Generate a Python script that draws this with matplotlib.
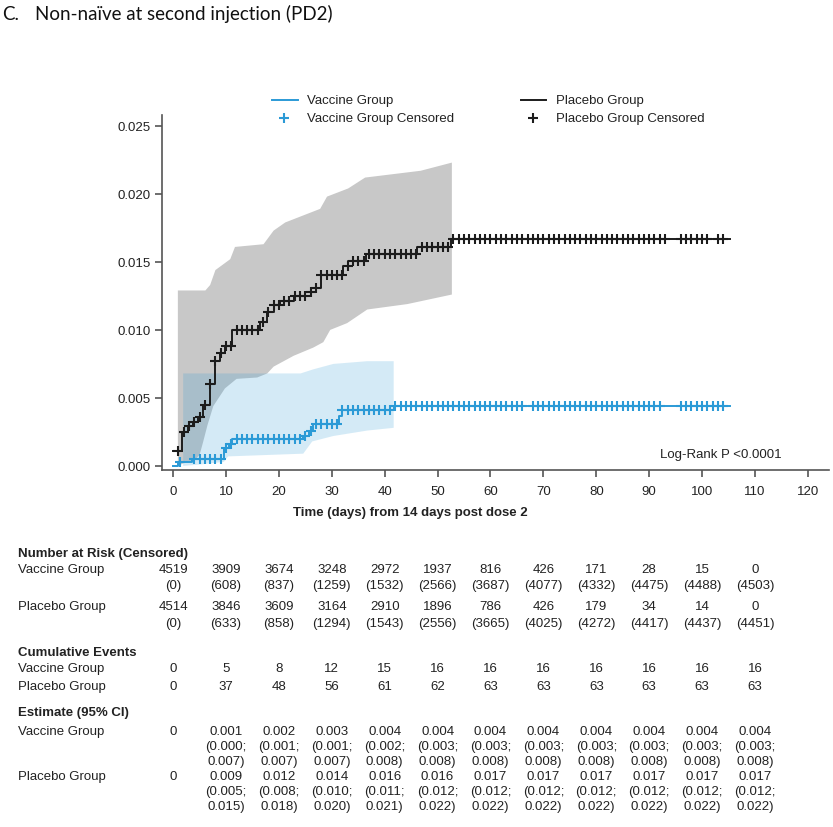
import matplotlib
matplotlib.use("Agg")
import matplotlib.pyplot as plt
import numpy as np
from matplotlib.transforms import blended_transform_factory
from matplotlib.lines import Line2D

W, H, DPI = 833, 828, 100
plt.rcParams['font.family'] = ['Liberation Sans', 'DejaVu Sans']

# ---------------- data ----------------
# Kaplan-Meier cumulative incidence (step changes)
placebo_days = [0, 1.7, 2.9, 3.8, 4.8, 5.7, 7.0, 8.0, 8.9, 9.9, 11.1, 16.5, 17.8, 19.0,
                20.3, 22.8, 26.0, 27.0, 28.0, 32.2, 33.1, 36.5, 46.2, 52.6]
placebo_cum = [0.0011, 0.0025, 0.0029, 0.0032, 0.0036, 0.0045, 0.0060, 0.0077, 0.0083, 0.0088,
               0.0100, 0.0106, 0.0113, 0.0118, 0.0121, 0.0125, 0.0128, 0.0131, 0.0140, 0.0147,
               0.0151, 0.0156, 0.0161, 0.0167]
placebo_end = 105.2

vaccine_days = [0, 1.0, 3.5, 9.6, 10.6, 11.1, 24.6, 25.6, 26.5, 31.3, 32.0, 41.7]
vaccine_cum = [0.0000, 0.0003, 0.0005, 0.0013, 0.0016, 0.0020, 0.0022, 0.0026, 0.0031,
               0.0037, 0.0041, 0.0044]
vaccine_end = 105.2

# censoring times
placebo_censor = [1, 2, 3, 4, 5, 6, 7, 8, 9, 10, 11, 12, 13, 14, 15, 16, 17, 18, 19, 20,
                  21, 22, 23, 24, 25, 26, 27, 28, 29, 30, 31, 32, 33, 34, 35, 36, 37, 38, 39,
                  40, 41, 42, 43, 44, 45, 46, 47, 48, 49, 50, 51, 52, 53, 54, 55, 56, 57, 58,
                  59, 60, 61, 62, 63, 64, 65, 66, 67, 68, 69, 70, 71, 72, 73, 74, 75, 76, 77,
                  78, 79, 80, 81, 82, 83, 84, 85, 86, 87, 88, 89, 90, 91, 92, 93,
                  96, 97, 98, 99, 100, 101, 103, 104]
vaccine_censor = [1.3, 4, 5, 6, 7, 8, 9, 10, 11, 12, 13, 14, 15, 16, 17, 18, 19, 20, 21, 22,
                  23, 24, 25, 26, 27, 28, 29, 30, 31, 32, 33, 34, 35, 36, 37, 38, 39, 40, 41,
                  42, 43, 44, 45, 46, 47, 48, 49, 50, 51, 52, 53, 54, 55, 56, 57, 58, 59, 60,
                  61, 62, 63, 64, 65, 66, 68, 69, 70, 71, 72, 73, 74, 75, 76, 77, 78, 79, 80,
                  81, 82, 83, 84, 85, 86, 87, 88, 89, 90, 91, 92,
                  96, 97, 98, 99, 100, 101, 102, 103, 104]

# 95% CI bands
placebo_up_days = [0.9, 6.1, 7.0, 8.0, 10.8, 11.7, 17.1, 19.0, 21.2, 27.8, 29.1, 33.1, 36.3, 46.8, 52.7]
placebo_up = [0.0129, 0.0129, 0.0133, 0.0144, 0.0152, 0.0161, 0.0163, 0.0173, 0.0179, 0.0189,
              0.0198, 0.0204, 0.0212, 0.0217, 0.0223]
placebo_lo_days = [0.9, 2.0, 4.0, 5.0, 5.7, 6.5, 7.6, 9.8, 12.0, 15.9, 17.8, 19.0, 22.8, 26.5,
                   28.4, 29.7, 32.9, 36.7, 44.3, 52.7]
placebo_lo = [0.0000, 0.0002, 0.0004, 0.0008, 0.0018, 0.0030, 0.0044, 0.0057, 0.0064, 0.0065,
              0.0068, 0.0073, 0.0081, 0.0087, 0.0091, 0.0100, 0.0105, 0.0115, 0.0119, 0.0126]

vaccine_up_days = [1.9, 24.1, 26.5, 30.3, 36.7, 41.7]
vaccine_up = [0.0068, 0.0068, 0.0071, 0.0075, 0.0077, 0.0077]
vaccine_lo_days = [1.9, 5.0, 9.6, 10.4, 24.6, 26.3, 30.3, 36.7, 41.7]
vaccine_lo = [0.0000, 0.0001, 0.0003, 0.0007, 0.0009, 0.0018, 0.0022, 0.0026, 0.0028]

# table
table_days = [0, 10, 20, 30, 40, 50, 60, 70, 80, 90, 100, 110]
risk_vaccine = [4519, 3909, 3674, 3248, 2972, 1937, 816, 426, 171, 28, 15, 0]
cens_vaccine = [0, 608, 837, 1259, 1532, 2566, 3687, 4077, 4332, 4475, 4488, 4503]
risk_placebo = [4514, 3846, 3609, 3164, 2910, 1896, 786, 426, 179, 34, 14, 0]
cens_placebo = [0, 633, 858, 1294, 1543, 2556, 3665, 4025, 4272, 4417, 4437, 4451]
events_vaccine = [0, 5, 8, 12, 15, 16, 16, 16, 16, 16, 16, 16]
events_placebo = [0, 37, 48, 56, 61, 62, 63, 63, 63, 63, 63, 63]
est_vaccine = ["0", "0.001", "0.002", "0.003", "0.004", "0.004", "0.004", "0.004", "0.004", "0.004", "0.004", "0.004"]
lo_vaccine = ["", "0.000", "0.001", "0.001", "0.002", "0.003", "0.003", "0.003", "0.003", "0.003", "0.003", "0.003"]
hi_vaccine = ["", "0.007", "0.007", "0.007", "0.008", "0.008", "0.008", "0.008", "0.008", "0.008", "0.008", "0.008"]
est_placebo = ["0", "0.009", "0.012", "0.014", "0.016", "0.016", "0.017", "0.017", "0.017", "0.017", "0.017", "0.017"]
lo_placebo = ["", "0.005", "0.008", "0.010", "0.011", "0.012", "0.012", "0.012", "0.012", "0.012", "0.012", "0.012"]
hi_placebo = ["", "0.015", "0.018", "0.020", "0.021", "0.022", "0.022", "0.022", "0.022", "0.022", "0.022", "0.022"]

x_ticks = [0, 10, 20, 30, 40, 50, 60, 70, 80, 90, 100, 110, 120]
y_ticks = [0.000, 0.005, 0.010, 0.015, 0.020, 0.025]

# ---------------- styling ----------------
C_PLA = "#1c1c1c"
C_VAC = "#2b9ad6"
C_GRAY = "#c8c8c8"
C_TXT = "#222222"
FS = 9.5

fig = plt.figure(figsize=(W / DPI, H / DPI), dpi=DPI)


def fx(px):
    return px / W


def fy(py):
    return 1 - py / H


ax = fig.add_axes([fx(162), fy(471), fx(829) - fx(162), fy(116) - fy(471)])
ax.set_xlim(-2.1, 124)
ax.set_ylim(-0.0003, 0.0258)

# CI bands
ax.fill(placebo_up_days + placebo_lo_days[::-1], placebo_up + placebo_lo[::-1],
        color=C_GRAY, lw=0, zorder=1)
ax.fill(vaccine_up_days + vaccine_lo_days[::-1], vaccine_up + vaccine_lo[::-1],
        color=C_VAC, alpha=0.2, lw=0, zorder=2)


def step_curve(days, cum, end, color):
    xs = list(days) + [end]
    ys = list(cum) + [cum[-1]]
    ax.step(xs, ys, where='post', color=color, lw=1.4, zorder=3)


def censor_vals(days, cum, times):
    idx = np.searchsorted(np.array(days), np.array(times), side='right') - 1
    return np.array(cum)[idx]


step_curve(placebo_days, placebo_cum, placebo_end, C_PLA)
step_curve(vaccine_days, vaccine_cum, vaccine_end, C_VAC)
ax.plot(placebo_censor, censor_vals(placebo_days, placebo_cum, placebo_censor), ls='none',
        marker='+', ms=7.5, mew=1.5, color=C_PLA, zorder=4)
ax.plot(vaccine_censor, censor_vals(vaccine_days, vaccine_cum, vaccine_censor), ls='none',
        marker='+', ms=7.5, mew=1.5, color=C_VAC, zorder=4)

for s in ['top', 'right']:
    ax.spines[s].set_visible(False)
for s in ['left', 'bottom']:
    ax.spines[s].set_color('#555555')
    ax.spines[s].set_linewidth(1.2)
ax.set_xticks(x_ticks)
ax.set_yticks(y_ticks)
ax.set_yticklabels([f"{v:.3f}" for v in y_ticks])
ax.tick_params(axis='both', colors='#555555', labelcolor=C_TXT, labelsize=FS, length=5, width=1.2)
ax.tick_params(axis='x', pad=6)
ax.tick_params(axis='y', pad=3)

fig.text(fx(782), fy(455), "Log-Rank P <0.0001", fontsize=FS, color=C_TXT,
         ha='right', va='center')

# x label
fig.text(fx(410), fy(513), "Time (days) from 14 days post dose 2", fontsize=FS,
         fontweight='bold', color=C_TXT, ha='center', va='center')

# title
fig.text(fx(2), fy(14), "C.", fontsize=13.5, family=['Lato', 'DejaVu Sans'], color='#111111',
         ha='left', va='center')
fig.text(fx(35), fy(14), "Non-naïve at second injection (PD2)", fontsize=13.5,
         family=['Lato', 'DejaVu Sans'], color='#111111', ha='left', va='center')

# legend (manual)
fig.add_artist(Line2D([fx(272), fx(298)], [fy(101), fy(101)], color=C_VAC, lw=1.4))
fig.add_artist(Line2D([fx(284)], [fy(119)], color=C_VAC, marker='+', ms=7.5, mew=1.5, ls='none'))
fig.text(fx(307), fy(101), "Vaccine Group", fontsize=FS, color=C_TXT, va='center')
fig.text(fx(307), fy(119), "Vaccine Group Censored", fontsize=FS, color=C_TXT, va='center')
fig.add_artist(Line2D([fx(521), fx(546)], [fy(101), fy(101)], color=C_PLA, lw=1.4))
fig.add_artist(Line2D([fx(533)], [fy(119)], color=C_PLA, marker='+', ms=7.5, mew=1.5, ls='none'))
fig.text(fx(556), fy(101), "Placebo Group", fontsize=FS, color=C_TXT, va='center')
fig.text(fx(556), fy(119), "Placebo Group Censored", fontsize=FS, color=C_TXT, va='center')

# ---------------- table ----------------
tr = blended_transform_factory(ax.transData, fig.transFigure)
LX = fx(18)


def label(py, s, bold=False):
    fig.text(LX, fy(py), s, fontsize=FS, color=C_TXT, va='center',
             fontweight='bold' if bold else 'normal')


def row(py, vals):
    for d, v in zip(table_days, vals):
        if v == "":
            continue
        ax.text(d, fy(py), str(v), transform=tr, fontsize=FS, color=C_TXT,
                ha='center', va='center', clip_on=False)


label(554, "Number at Risk (Censored)", True)
label(570, "Vaccine Group")
row(570, risk_vaccine)
row(586, [f"({c})" for c in cens_vaccine])
label(607, "Placebo Group")
row(607, risk_placebo)
row(624, [f"({c})" for c in cens_placebo])

label(653, "Cumulative Events", True)
label(669, "Vaccine Group")
row(669, events_vaccine)
label(687, "Placebo Group")
row(687, events_placebo)

label(713, "Estimate (95% CI)", True)
label(732, "Vaccine Group")
row(732, est_vaccine)
row(747, [f"({v};" if v else "" for v in lo_vaccine])
row(762, [f"{v})" if v else "" for v in hi_vaccine])
label(777, "Placebo Group")
row(777, est_placebo)
row(792, [f"({v};" if v else "" for v in lo_placebo])
row(807, [f"{v})" if v else "" for v in hi_placebo])

fig.savefig("out.png", dpi=DPI)
